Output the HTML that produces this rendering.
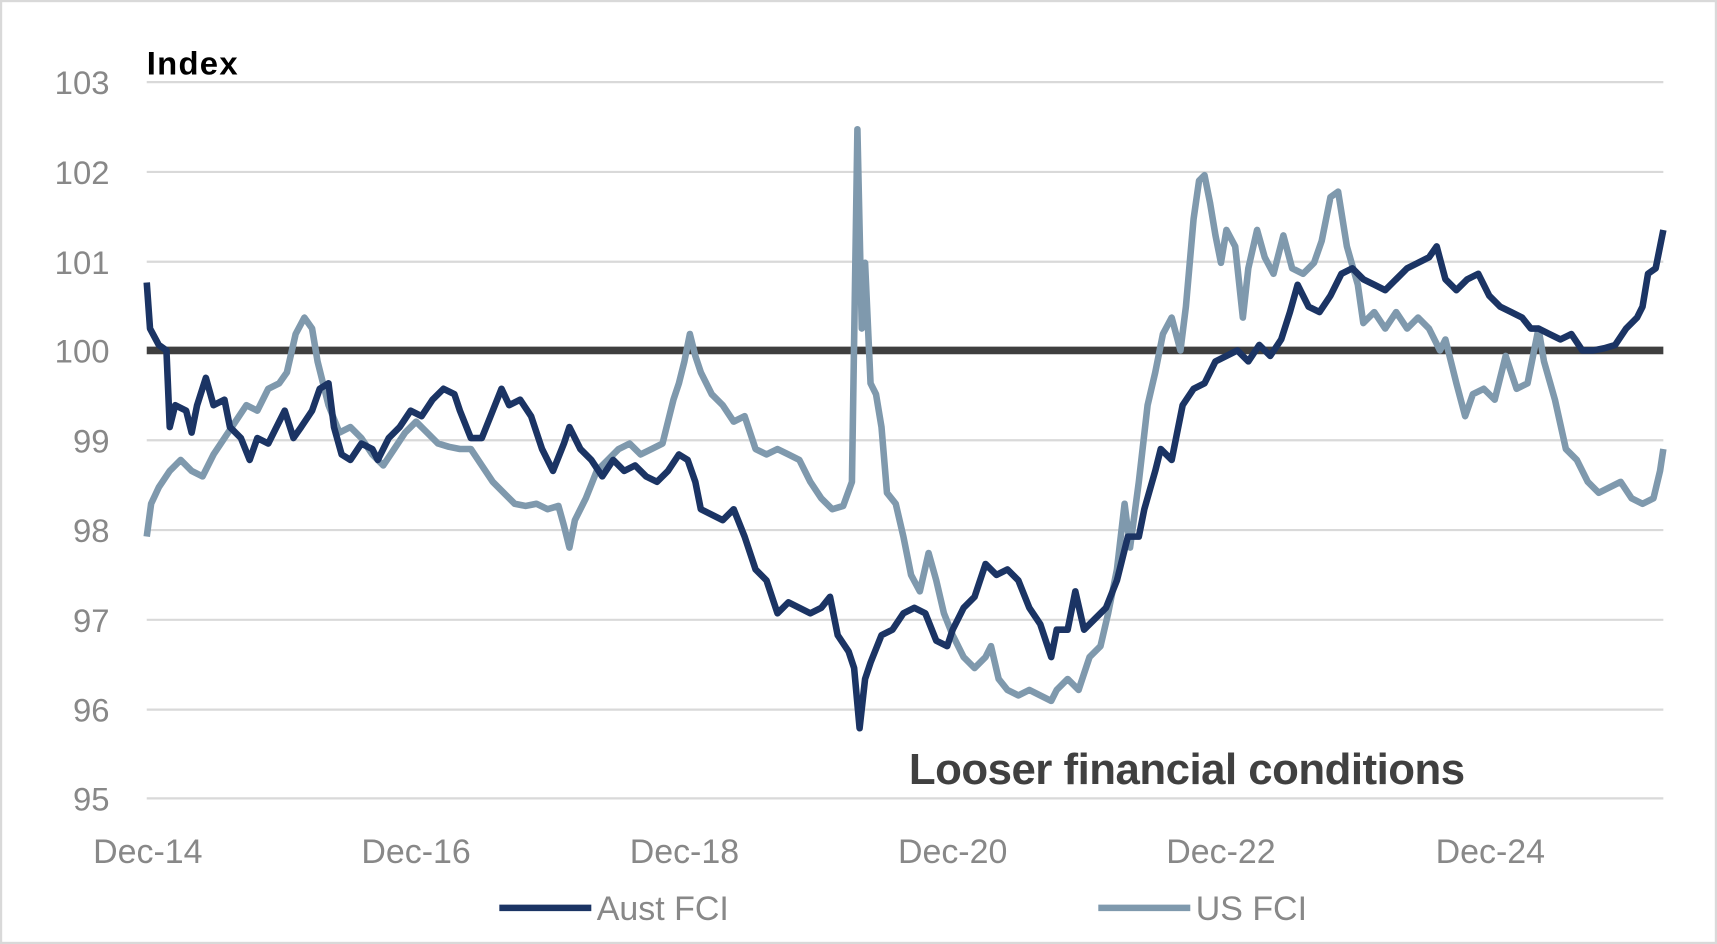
<!DOCTYPE html>
<html><head><meta charset="utf-8"><style>html,body{margin:0;padding:0;background:#fff}svg{display:block}</style></head>
<body>
<svg width="1717" height="944" viewBox="0 0 1568 862" preserveAspectRatio="none" xmlns="http://www.w3.org/2000/svg" font-family="Liberation Sans, sans-serif">
<rect x="1" y="1" width="1566" height="860" fill="#fff" stroke="#d9d9d9" stroke-width="2"/>
<g stroke="#d9d9d9" stroke-width="2">
<line x1="134" x2="1519" y1="75" y2="75"/><line x1="134" x2="1519" y1="157" y2="157"/><line x1="134" x2="1519" y1="239" y2="239"/>
<line x1="134" x2="1519" y1="402" y2="402"/><line x1="134" x2="1519" y1="484" y2="484"/><line x1="134" x2="1519" y1="566" y2="566"/>
<line x1="134" x2="1519" y1="648" y2="648"/><line x1="134" x2="1519" y1="729" y2="729"/>
</g>
<line x1="134" x2="1519" y1="320" y2="320" stroke="#3f3f3f" stroke-width="7"/>
<g fill="#888" font-size="30" text-anchor="end">
<text x="100" y="86">103</text><text x="100" y="168">102</text><text x="100" y="250">101</text><text x="100" y="331">100</text>
<text x="100" y="413">99</text><text x="100" y="495">98</text><text x="100" y="577">97</text><text x="100" y="659">96</text><text x="100" y="740">95</text>
</g>
<g fill="#888" font-size="31" text-anchor="middle">
<text x="135" y="788">Dec-14</text><text x="380" y="788">Dec-16</text><text x="625" y="788">Dec-18</text>
<text x="870" y="788">Dec-20</text><text x="1115" y="788">Dec-22</text><text x="1361" y="788">Dec-24</text>
</g>
<text x="134" y="68" font-size="30" font-weight="bold" fill="#000" textLength="83">Index</text>
<text x="830" y="716" font-size="40" font-weight="bold" fill="#404040" textLength="508">Looser financial conditions</text>
<polyline fill="none" stroke="#7f99ad" stroke-width="6" stroke-linejoin="round" points="134,490 138,460 145,445 155,430 165,420 175,430 185,435 195,415 205,400 215,385 225,370 235,375 245,355 255,350 262,340 270,305 278,290 285,300 290,330 300,370 310,395 320,390 330,400 340,415 350,425 360,410 370,395 380,385 390,395 400,405 410,408 420,410 430,410 440,425 450,440 460,450 470,460 480,462 490,460 500,465 510,462 515,480 520,500 525,475 535,455 545,430 555,420 565,410 575,405 585,415 595,410 605,405 610,385 615,365 620,350 625,330 630,305 635,325 640,340 650,360 660,370 670,385 680,380 690,410 700,415 710,410 720,415 730,420 740,440 750,455 760,465 770,462 778,440 783,118 787,300 790,240 795,350 800,360 805,390 810,450 818,460 825,490 832,525 840,540 848,505 855,530 862,560 870,580 880,600 890,610 900,600 905,590 912,620 920,630 930,635 940,630 950,635 960,640 965,630 975,620 985,630 995,600 1005,590 1012,560 1020,520 1027,460 1032,500 1040,440 1048,370 1055,340 1062,305 1070,290 1078,320 1083,280 1090,200 1095,165 1100,160 1105,185 1110,215 1115,240 1120,210 1128,225 1135,290 1140,245 1148,210 1155,235 1163,250 1172,215 1180,245 1190,250 1200,240 1207,220 1215,180 1222,175 1230,225 1240,260 1245,295 1255,285 1265,300 1275,285 1285,300 1295,290 1305,300 1315,320 1320,310 1330,350 1338,380 1345,360 1355,355 1365,365 1375,325 1385,355 1395,350 1405,300 1410,330 1420,365 1430,410 1440,420 1450,440 1460,450 1470,445 1480,440 1490,455 1500,460 1510,455 1516,430 1519,410"/>
<polyline fill="none" stroke="#1b3464" stroke-width="6" stroke-linejoin="round" points="134,258 137,300 145,315 152,320 155,390 160,370 170,375 175,395 180,370 188,345 195,370 205,365 210,390 220,400 228,420 235,400 245,405 255,385 260,375 268,400 275,390 285,375 292,355 300,350 305,390 312,415 320,420 330,405 340,410 345,420 355,400 365,390 375,375 385,380 395,365 405,355 415,360 420,375 430,400 440,400 450,375 458,355 465,370 475,365 485,380 495,410 505,430 515,405 520,390 530,410 540,420 550,435 560,420 570,430 580,425 590,435 600,440 610,430 620,415 628,420 635,440 640,465 650,470 660,475 670,465 680,490 690,520 700,530 710,560 720,550 730,555 740,560 750,555 758,545 765,580 775,595 780,610 785,665 790,620 795,605 805,580 815,575 825,560 835,555 845,560 855,585 865,590 870,575 880,555 890,545 900,515 910,525 920,520 930,530 940,555 950,570 960,600 965,575 975,575 982,540 990,575 1000,565 1010,555 1020,530 1030,490 1040,490 1045,465 1055,430 1060,410 1070,420 1080,370 1090,355 1100,350 1110,330 1120,325 1130,320 1140,330 1150,315 1160,325 1170,310 1178,285 1185,260 1195,280 1205,285 1215,270 1225,250 1235,245 1245,255 1255,260 1265,265 1275,255 1285,245 1295,240 1305,235 1312,225 1320,255 1330,265 1340,255 1350,250 1360,270 1370,280 1380,285 1390,290 1398,300 1405,300 1415,305 1425,310 1435,305 1445,320 1455,320 1465,318 1475,315 1485,300 1495,290 1500,280 1505,250 1512,245 1519,210"/>
<line x1="456" x2="540" y1="829" y2="829" stroke="#1b3464" stroke-width="6"/>
<text x="545" y="840" font-size="31" fill="#888">Aust FCI</text>
<line x1="1003" x2="1087" y1="829" y2="829" stroke="#7f99ad" stroke-width="6"/>
<text x="1092" y="840" font-size="31" fill="#888">US FCI</text>
</svg>
</body></html>
